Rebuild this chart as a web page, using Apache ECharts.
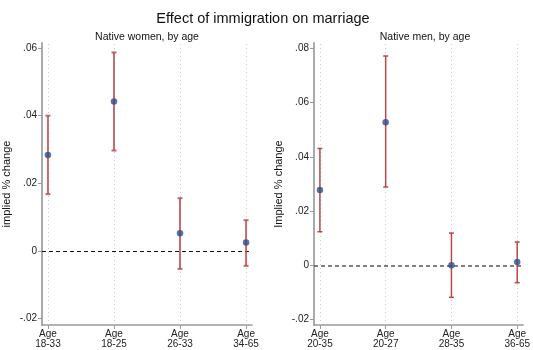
<!DOCTYPE html>
<html>
<head>
<meta charset="utf-8">
<script src="https://cdn.jsdelivr.net/npm/echarts@6/dist/echarts.min.js"></script>
<style>
  html, body { margin: 0; padding: 0; background: #fff; }
  #chart { width: 533px; height: 350px; }
</style>
</head>
<body>
<div id="chart"></div>
<script>
  // categories
  var womenAges = ['18-33', '18-25', '26-33', '34-65'];
  var menAges = ['20-35', '20-27', '28-35', '36-65'];

  // point estimates and 95% intervals
  var womenEst = [0.0284, 0.0442, 0.0052, 0.0025];
  var womenLow = [0.0168, 0.0297, -0.0053, -0.0044];
  var womenHigh = [0.0400, 0.0587, 0.0156, 0.0091];

  var menEst = [0.0278, 0.0528, 0.0000, 0.0012];
  var menLow = [0.0124, 0.0289, -0.0118, -0.0064];
  var menHigh = [0.0431, 0.0772, 0.0119, 0.0086];

  // tick labels
  var womenTicks = [-0.02, 0, 0.02, 0.04, 0.06];
  var menTicks = [-0.02, 0, 0.02, 0.04, 0.06, 0.08];

  var FONT = 'Liberation Sans';
  var barColor = '#b9484b';
  var dotColor = '#2e4d85';

  function fmt(v) {
    if (v === 0) return '0';
    return v.toFixed(2).replace('0.', '.');
  }

  function errRender(width, color) {
    return function (params, api) {
      var x = api.value(0);
      var lo = api.coord([x, api.value(1)]);
      var hi = api.coord([x, api.value(2)]);
      var cap = 2.5;
      var style = { stroke: color, lineWidth: width, fill: null };
      return {
        type: 'group',
        children: [
          { type: 'line', shape: { x1: lo[0], y1: lo[1], x2: hi[0], y2: hi[1] }, style: style },
          { type: 'line', shape: { x1: lo[0] - cap, y1: lo[1], x2: lo[0] + cap, y2: lo[1] }, style: style },
          { type: 'line', shape: { x1: hi[0] - cap, y1: hi[1], x2: hi[0] + cap, y2: hi[1] }, style: style }
        ]
      };
    };
  }

  function xAxisFor(idx, cats) {
    return {
      gridIndex: idx,
      type: 'value',
      min: -0.09,
      max: 3.09,
      splitLine: { show: false },
      axisLine: { show: true, onZero: false, lineStyle: { color: '#999', width: 1.5 } },
      axisTick: { show: true, length: 4, customValues: [0, 1, 2, 3], lineStyle: { color: '#999' } },
      axisLabel: {
        customValues: [0, 1, 2, 3],
        formatter: function (v) { return 'Age\n' + cats[Math.round(v)]; },
        fontFamily: FONT, fontSize: 10, color: '#222', lineHeight: 10, margin: 4
      }
    };
  }

  function yAxisFor(idx, min, max, ticks, name) {
    return {
      gridIndex: idx,
      type: 'value',
      min: min,
      max: max,
      name: name,
      nameLocation: 'middle',
      nameGap: 30,
      nameTextStyle: { fontFamily: FONT, fontSize: 11, color: '#111' },
      splitLine: { show: false },
      axisLine: { show: true, onZero: false, lineStyle: { color: '#aaa', width: 2 } },
      axisTick: { show: true, length: 4, customValues: ticks, lineStyle: { color: '#999' } },
      axisLabel: {
        customValues: ticks,
        formatter: fmt,
        fontFamily: FONT, fontSize: 10, color: '#222', margin: 5
      }
    };
  }

  function refLines(cats, zeroColor, zeroWidth) {
    var lines = cats.map(function (c, i) { return { xAxis: i }; });
    lines.push({ yAxis: 0, lineStyle: { type: [4, 3], color: zeroColor, width: zeroWidth } });
    return lines;
  }

  function idxData(arr) {
    return arr.map(function (v, i) { return [i, v]; });
  }

  var chart = echarts.init(document.getElementById('chart'));
  chart.setOption({
    animation: false,
    title: [
      { text: 'Effect of immigration on marriage', left: 258, top: 6, textAlign: 'center',
        textStyle: { fontFamily: FONT, fontSize: 14.5, fontWeight: 'normal', color: '#111' } },
      { text: 'Native women, by age', left: 142, top: 27, textAlign: 'center',
        textStyle: { fontFamily: FONT, fontSize: 10.5, fontWeight: 'normal', color: '#111' } },
      { text: 'Native men, by age', left: 420, top: 27, textAlign: 'center',
        textStyle: { fontFamily: FONT, fontSize: 10.5, fontWeight: 'normal', color: '#111' } }
    ],
    grid: [
      { left: 39, top: 43, width: 213, height: 282 },
      { left: 314, top: 43, width: 213, height: 282 }
    ],
    xAxis: [xAxisFor(0, womenAges), xAxisFor(1, menAges)],
    yAxis: [
      yAxisFor(0, -0.0219, 0.0615, womenTicks, 'implied % change'),
      yAxisFor(1, -0.022, 0.082, menTicks, 'Implied % change')
    ],
    series: [
      {
        type: 'scatter', xAxisIndex: 0, yAxisIndex: 0, data: [], z: 1,
        markLine: {
          silent: true, symbol: 'none', label: { show: false }, z: 1,
          data: refLines(womenAges, '#111', 1.2),
          lineStyle: { type: [1, 3], color: '#ccc', width: 1 }
        }
      },
      {
        type: 'custom', xAxisIndex: 0, yAxisIndex: 0,
        renderItem: errRender(2, 'rgba(185,72,75,0.8)'),
        data: womenAges.map(function (c, i) { return [i, womenLow[i], womenHigh[i]]; }),
        encode: { x: 0, y: [1, 2] },
        z: 10
      },
      {
        type: 'scatter', xAxisIndex: 0, yAxisIndex: 0,
        data: idxData(womenEst), symbolSize: 6.5,
        itemStyle: { color: dotColor }, z: 11
      },
      {
        type: 'scatter', xAxisIndex: 1, yAxisIndex: 1, data: [], z: 1,
        markLine: {
          silent: true, symbol: 'none', label: { show: false }, z: 1,
          data: refLines(menAges, '#555', 1.5),
          lineStyle: { type: [1, 3], color: '#ccc', width: 1 }
        }
      },
      {
        type: 'custom', xAxisIndex: 1, yAxisIndex: 1,
        renderItem: errRender(1.5, barColor),
        data: menAges.map(function (c, i) { return [i, menLow[i], menHigh[i]]; }),
        encode: { x: 0, y: [1, 2] },
        z: 10
      },
      {
        type: 'scatter', xAxisIndex: 1, yAxisIndex: 1,
        data: idxData(menEst), symbolSize: 6.5,
        itemStyle: { color: dotColor }, z: 11
      }
    ]
  });
</script>
</body>
</html>
